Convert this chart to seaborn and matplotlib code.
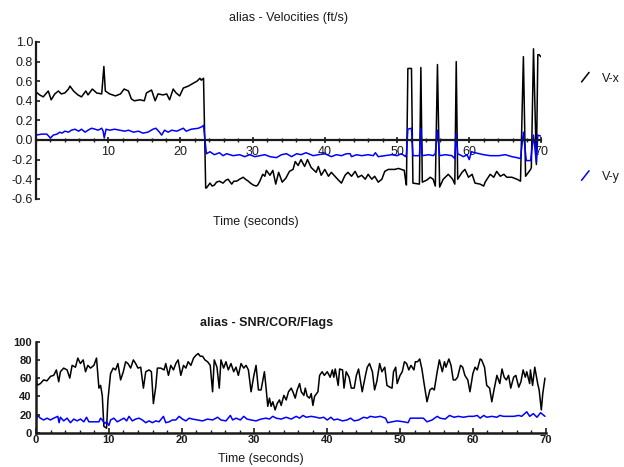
import matplotlib
matplotlib.use('Agg')
import matplotlib.pyplot as plt
from matplotlib.legend_handler import HandlerBase
from matplotlib.lines import Line2D
from matplotlib.ticker import MultipleLocator, FormatStrFormatter
import numpy as np
import pandas as pd
import seaborn as sns

sns.set_theme(style='white')
plt.rcParams['font.family'] = ['Liberation Sans', 'DejaVu Sans']
plt.rcParams['axes.unicode_minus'] = False

# --- Velocities (ft/s) ---
t_vx = [0.0, 0.5, 1.0, 1.7, 2.1, 2.6, 3.1, 3.5, 4.0, 4.5, 4.7, 5.2, 5.8, 6.3, 6.9, 7.2,
        7.8, 8.4, 9.1, 9.4, 9.6, 10.2, 11.0, 11.7, 12.2, 12.8, 13.2, 13.6, 14.4, 15.0,
        15.3, 16.0, 16.5, 16.9, 17.6, 18.1, 18.5, 19.0, 19.4, 19.9, 20.4, 21.1, 21.8,
        22.3, 22.7, 22.9, 23.2, 23.5,
        23.6, 24.1, 24.4, 24.7, 25.0, 25.4, 25.9, 26.3, 26.6, 27.1, 27.4, 27.8, 28.2,
        28.7, 29.0, 29.4, 29.7, 30.1, 30.5, 30.7, 31.0, 31.4, 31.7, 31.9, 32.4, 32.8,
        33.2, 33.6, 34.1, 34.6, 35.1, 35.6, 35.9, 36.3, 36.7, 37.2, 37.6, 38.1, 38.8,
        39.1, 39.5, 40.0, 40.5, 40.9, 41.4, 41.9, 42.3, 42.8, 43.2, 43.7, 44.2, 44.6,
        45.1, 45.6, 46.0, 46.5, 46.9, 47.4, 47.9, 48.3, 48.8, 49.3, 49.7, 50.2, 50.6,
        51.0, 51.2, 51.3, 51.5, 52.0, 52.2, 53.1, 53.3, 53.5, 54.1, 54.6, 55.0, 55.3,
        55.6, 55.9, 56.4, 57.1, 57.7, 58.0, 58.2, 58.4, 59.0, 59.4, 59.9, 60.4, 60.8,
        61.5, 62.0, 62.2, 62.9, 63.4, 63.8, 64.3, 64.8, 65.2, 65.9, 66.6, 67.1, 67.5,
        67.8, 68.0, 68.5, 68.6, 68.9, 69.3, 69.5, 69.7, 69.9]
vx = [0.49, 0.46, 0.44, 0.50, 0.41, 0.47, 0.50, 0.47, 0.48, 0.52, 0.55, 0.50, 0.46, 0.44,
      0.50, 0.46, 0.52, 0.48, 0.47, 0.75, 0.50, 0.47, 0.45, 0.47, 0.52, 0.50, 0.42, 0.40,
      0.41, 0.40, 0.48, 0.51, 0.40, 0.47, 0.46, 0.47, 0.41, 0.52, 0.48, 0.45, 0.53, 0.55,
      0.58, 0.60, 0.63, 0.61, 0.63, -0.49,
      -0.49, -0.44, -0.47, -0.46, -0.43, -0.42, -0.44, -0.41, -0.40, -0.45, -0.42, -0.42,
      -0.40, -0.38, -0.40, -0.42, -0.44, -0.46, -0.47, -0.46, -0.42, -0.35, -0.37, -0.31,
      -0.36, -0.31, -0.45, -0.33, -0.43, -0.39, -0.32, -0.30, -0.22, -0.26, -0.20, -0.27,
      -0.20, -0.28, -0.33,
      -0.27, -0.36, -0.30, -0.37, -0.33, -0.37, -0.41, -0.44, -0.36, -0.33, -0.37, -0.32,
      -0.38, -0.36, -0.40, -0.35, -0.40, -0.37, -0.43, -0.40, -0.32, -0.30, -0.30, -0.30,
      -0.29, -0.30, -0.31, -0.42, -0.46, 0.73, 0.73, -0.44, -0.45, 0.74, -0.43, -0.41,
      -0.38, -0.40, -0.47, 0.77, -0.48, -0.40, -0.35, -0.40, -0.45, 0.80, -0.40, -0.33,
      -0.30, -0.38, -0.35, -0.44, -0.45, -0.47, -0.43, -0.35, -0.38, -0.32, -0.37, -0.35,
      -0.38, -0.38, -0.40, -0.42, 0.85, -0.37, -0.35, -0.30, -0.28, 0.93, -0.25, 0.87,
      0.87, 0.85]

t_vy = [0.0, 0.8, 1.5, 2.0, 2.4, 2.9, 3.3, 3.6, 4.0, 4.5, 4.9, 5.4, 5.9, 6.3, 6.8, 7.2,
        7.7, 8.2, 8.6, 9.1, 9.3, 9.45, 9.7, 10.2, 10.9, 11.6, 12.3, 12.8, 13.5, 14.2, 14.8,
        15.5, 16.2, 16.6, 17.1, 17.4, 17.8, 18.3, 18.8, 19.5, 20.4, 20.8, 21.5, 22.5, 23.1,
        23.2, 23.6, 24.1, 24.7, 25.4, 25.9, 26.4, 27.3, 28.2, 28.9, 29.6, 30.3, 31.0, 31.7,
        32.4, 33.3, 34.0, 34.7, 35.4, 36.1, 36.7, 37.4, 38.4,
        39.1, 40.0, 40.9, 41.6, 42.3, 43.0, 43.5, 43.7, 44.4, 45.1, 46.0, 46.7, 47.0, 47.4,
        48.3, 49.3, 50.0, 50.6, 51.2, 51.3, 51.5, 52.0, 52.2, 53.1, 53.3, 53.5, 54.4, 55.0,
        55.3, 55.6, 55.9, 56.7, 57.6, 58.0, 58.2, 58.4, 59.2, 59.7, 60.0, 60.3, 60.8, 62.0,
        62.9, 64.1, 65.0, 65.9, 66.6, 67.1, 67.5, 67.9, 68.5, 68.9, 69.3, 69.5, 69.9]
vy = [0.05, 0.06, 0.06, 0.02, 0.05, 0.06, 0.08, 0.07, 0.09, 0.08, 0.10, 0.11, 0.09, 0.11,
      0.08, 0.10, 0.12, 0.11, 0.10, 0.12, 0.09, 0.02, 0.11, 0.10, 0.11, 0.10, 0.09, 0.10,
      0.08, 0.09, 0.07, 0.08, 0.11, 0.12, 0.08, 0.05, 0.10, 0.08, 0.10, 0.09, 0.12, 0.09,
      0.11, 0.12, 0.14, 0.15, -0.14, -0.12, -0.15, -0.13, -0.16, -0.14, -0.16, -0.15,
      -0.17, -0.15, -0.17, -0.16, -0.15, -0.17, -0.18, -0.15, -0.14, -0.17, -0.14, -0.15,
      -0.13, -0.16,
      -0.15, -0.14, -0.17, -0.15, -0.16, -0.14, -0.14, -0.17, -0.15, -0.16, -0.15, -0.16,
      -0.13, -0.17, -0.16, -0.15, -0.16, -0.14, -0.17, -0.14, 0.11, 0.12, -0.16, -0.16,
      0.12, -0.16, -0.15, -0.16, -0.14, 0.10, -0.16, -0.15, -0.16, -0.19, 0.07, -0.14,
      -0.17, -0.15, -0.20, -0.12, -0.13, -0.15, -0.16, -0.16, -0.15, -0.17, -0.18, -0.19,
      0.08, -0.21, -0.21, 0.05, -0.23, 0.05, 0.04]

# --- SNR/COR/Flags ---
t_snr = [0.0, 0.14, 0.6, 1.06, 1.5, 2.0, 2.43, 2.8, 3.12, 3.35, 3.8, 4.27, 4.64, 4.96,
         5.42, 5.74, 6.1, 6.48, 6.8, 7.12, 7.49, 7.95, 8.31, 8.64, 8.87, 9.1, 9.32, 9.69,
         9.88, 10.24, 10.6, 10.93, 11.25, 11.62, 11.99, 12.31, 12.63, 13.0, 13.37, 13.69,
         14.0, 14.38, 14.75, 15.07, 15.53, 15.85, 16.12, 16.44, 16.67, 17.13, 17.59, 17.82,
         18.19, 18.51, 18.88, 19.2, 19.52, 19.89, 20.26, 20.58, 20.9, 21.27, 21.64, 21.96,
         22.28, 22.55, 22.88, 23.2, 23.56, 23.93, 24.25, 24.48, 24.85, 25.17, 25.4, 25.77,
         26.09, 26.41, 26.78, 27.15, 27.47, 27.79, 28.16, 28.53, 28.85, 29.17, 29.54, 29.9,
         30.22, 30.55, 30.91, 31.37, 31.6, 31.83, 32.06, 32.29, 32.52, 32.84, 33.12, 33.44,
         33.67, 34.04, 34.36, 34.68, 35.05, 35.28, 35.6, 35.87, 36.2, 36.43, 36.79, 36.98,
         37.25, 37.57, 37.8, 38.03, 38.26, 38.72, 38.95,
         39.3, 39.6, 40.0, 40.4, 40.7, 40.9, 41.1, 41.5, 41.7, 42.1, 42.3, 42.6, 43.0, 43.3,
         43.7, 44.0, 44.3, 44.8, 45.3, 45.5, 45.8, 46.2, 46.5, 46.8, 47.2, 47.5, 47.9, 48.2,
         48.6, 48.9, 49.1, 49.4, 49.6, 50.0, 50.3, 50.6, 50.9, 51.2, 51.5, 51.9, 52.1, 52.4,
         52.7, 53.0, 53.3, 53.7, 54.1, 54.4, 54.7, 55.1, 55.4, 55.8, 56.1, 56.3, 56.7, 57.0,
         57.3, 57.6, 57.9, 58.3, 58.6, 58.9, 59.3, 59.6, 60.0, 60.3, 60.6, 61.0, 61.2, 61.6,
         61.9, 62.3, 62.6, 62.9, 63.3, 63.7, 64.0, 64.3, 64.6, 64.9, 65.2, 65.6, 65.9, 66.3,
         66.6, 66.9, 67.2, 67.4, 67.8, 67.9, 68.2, 68.5, 68.9, 69.1, 69.4, 69.6, 69.9]
snr = [63, 52, 54, 58, 57, 62, 63, 69, 56, 67, 71, 69, 60, 74, 72, 82, 76, 80, 67, 74, 71,
       74, 82, 49, 52, 41, 7, 5, 36, 65, 71, 69, 76, 58, 67, 78, 76, 71, 80, 76, 71, 72, 49,
       67, 69, 67, 32, 50, 71, 71, 69, 76, 63, 74, 69, 76, 80, 63, 74, 71, 78, 74, 82, 85,
       87, 84, 84, 80, 78, 74, 45, 80, 72, 49, 80, 71, 78, 69, 76, 67, 72, 63, 76, 71, 74,
       69, 45, 62, 74, 47, 47, 67, 49, 29, 38, 29, 34, 25, 32, 36, 30, 41, 36, 45, 49, 45,
       38, 47, 54, 45, 41, 49, 40, 38, 43, 30, 40, 45, 63,
       67, 63, 67, 61, 69, 61, 70, 52, 70, 69, 49, 67, 61, 49, 49, 63, 70, 45, 65, 72, 76,
       67, 47, 56, 76, 67, 72, 52, 50, 49, 67, 72, 54, 63, 67, 78, 76, 69, 74, 69, 78, 78,
       81, 70, 54, 34, 47, 49, 47, 67, 80, 67, 78, 72, 81, 74, 58, 58, 61, 74, 72, 63, 58,
       45, 65, 72, 69, 81, 80, 72, 52, 49, 34, 47, 63, 54, 70, 61, 58, 63, 49, 61, 63, 50,
       56, 69, 61, 67, 54, 69, 52, 72, 54, 47, 25, 43, 60]

t_cor = [0.0, 0.23, 0.6, 1.06, 1.52, 1.98, 2.43, 2.99, 3.17, 3.35, 3.81, 4.27, 4.73, 5.19,
         5.65, 6.11, 6.57, 6.94, 7.26, 8.64, 8.87, 9.1, 9.42, 9.69, 10.01, 10.24, 10.7,
         11.16, 11.62, 12.08, 12.45, 12.77, 13.23, 13.69, 14.15, 14.61, 15.07, 15.53, 15.99,
         16.44, 16.9, 17.5, 17.82, 18.28, 18.74, 19.2, 19.66, 20.12, 20.58, 21.04, 21.5,
         22.19, 22.88, 23.56, 24.25, 24.94, 25.4, 26.09, 26.69, 27.01, 27.47, 28.07, 28.53,
         28.98, 29.54, 30.22, 30.91, 31.6, 32.06, 32.52, 32.98, 33.67, 34.36, 35.05, 35.74,
         36.2, 36.66, 37.12, 37.8, 38.49, 38.95, 39.5,
         40.0, 40.5, 40.9, 41.4, 42.1, 42.7, 43.2, 43.7, 44.3, 45.0, 45.5, 45.9, 46.6, 47.3,
         48.0, 48.3, 48.9, 49.6, 50.5, 51.1, 51.4, 52.3, 53.2, 53.7, 54.4, 55.1, 55.5, 56.2,
         56.8, 57.4, 58.0, 58.7, 59.4, 60.1, 60.6, 61.0, 61.5, 61.9, 62.6, 63.3, 63.7, 64.2,
         64.9, 65.6, 66.3, 66.7, 67.4, 67.8, 68.3, 68.8, 69.3, 69.9]
cor = [14, 19, 16, 14, 16, 14, 16, 18, 11, 17, 13, 16, 11, 15, 13, 15, 12, 17, 12, 12, 16,
       14, 10, 12, 8, 14, 16, 12, 14, 16, 13, 18, 13, 15, 16, 14, 11, 13, 11, 13, 12, 18,
       11, 12, 14, 14, 18, 15, 13, 16, 15, 14, 13, 15, 14, 17, 14, 13, 19, 14, 16, 14, 18,
       15, 14, 13, 15, 16, 15, 18, 16, 15, 17, 15, 18, 16, 19, 17, 18, 17, 16, 17,
       14, 17, 14, 15, 13, 14, 16, 13, 14, 17, 16, 18, 17, 18, 16, 11, 12, 13, 12, 11, 16,
       16, 16, 12, 14, 18, 16, 15, 19, 17, 18, 17, 18, 18, 19, 16, 19, 17, 18, 17, 19, 18,
       18, 18, 19, 18, 23, 18, 21, 17, 22, 18]

vel = pd.DataFrame({'t': t_vx, 'V-x': vx})
vel_y = pd.DataFrame({'t': t_vy, 'V-y': vy})
snr_df = pd.DataFrame({'t': t_snr, 'snr': snr})
cor_df = pd.DataFrame({'t': t_cor, 'cor': cor})

INK = '#1a1a1a'
BLUE = '#0000ff'


class DiagHandler(HandlerBase):
    """short slanted stroke used as legend key"""
    def create_artists(self, legend, orig_handle, xdescent, ydescent,
                       width, height, fontsize, trans):
        ln = Line2D([-xdescent, -xdescent + width], [-ydescent, -ydescent + height],
                    color=orig_handle.get_color(), lw=orig_handle.get_linewidth(),
                    transform=trans)
        return [ln]


fig = plt.figure(figsize=(6.24, 4.67), dpi=100)
ax1 = fig.add_axes([0.0577, 0.5743, 0.810, 0.3358])
ax2 = fig.add_axes([0.0577, 0.0734, 0.8168, 0.1949])

# top panel
sns.lineplot(data=vel, x='t', y='V-x', ax=ax1, color='black', lw=1.1,
             estimator=None, sort=False)
sns.lineplot(data=vel_y, x='t', y='V-y', ax=ax1, color=BLUE, lw=1.1,
             estimator=None, sort=False)
ax1.set_xlim(0, 70)
ax1.set_ylim(-0.6, 1.0)
for s in ['top', 'right']:
    ax1.spines[s].set_visible(False)
ax1.spines['left'].set_position(('data', 0))
ax1.spines['bottom'].set_position(('data', 0))
for s in ['left', 'bottom']:
    ax1.spines[s].set_color(INK)
    ax1.spines[s].set_linewidth(1.6)
ax1.set_xticks(range(10, 71, 10))
ax1.xaxis.set_minor_locator(MultipleLocator(2))
ax1.set_yticks(np.arange(-0.6, 1.01, 0.2))
ax1.yaxis.set_major_formatter(FormatStrFormatter('%.1f'))
ax1.tick_params(axis='x', which='major', bottom=True, direction='inout', length=4.5,
                width=1.2, pad=2, labelsize=9, color=INK, labelcolor=INK)
ax1.tick_params(axis='x', which='minor', bottom=True, direction='inout', length=2.5,
                width=1.0, color=INK)
ax1.tick_params(axis='y', left=True, direction='in', length=3, width=1.2, pad=2,
                labelsize=9, color=INK, labelcolor=INK)
ax1.set_ylabel('')
ax1.set_xlabel('Time (seconds)', fontsize=9, color=INK)
ax1.xaxis.set_label_coords(0.435, -0.11)
ax1.text(0.5, 1.153, 'alias - Velocities (ft/s)', transform=ax1.transAxes,
         ha='center', va='center', fontsize=9, color=INK)

handles = [Line2D([], [], color='black', lw=1.1), Line2D([], [], color=BLUE, lw=1.1)]
fig.legend(handles, ['V-x', 'V-y'], handler_map={Line2D: DiagHandler()},
           loc='upper left', bbox_to_anchor=(0.932, 0.845), frameon=False,
           fontsize=9, handlelength=0.6, handleheight=0.8, handletextpad=1.0,
           labelspacing=6.9, borderpad=0, borderaxespad=0, labelcolor=INK)

# bottom panel
sns.lineplot(data=snr_df, x='t', y='snr', ax=ax2, color='black', lw=1.1,
             estimator=None, sort=False)
sns.lineplot(data=cor_df, x='t', y='cor', ax=ax2, color=BLUE, lw=1.1,
             estimator=None, sort=False)
ax2.set_xlim(0, 70)
ax2.set_ylim(0, 100)
for s in ['top', 'right']:
    ax2.spines[s].set_visible(False)
for s in ['left', 'bottom']:
    ax2.spines[s].set_color(INK)
    ax2.spines[s].set_linewidth(1.8)
ax2.set_xticks(range(0, 71, 10))
ax2.xaxis.set_minor_locator(MultipleLocator(2))
ax2.set_yticks(range(0, 101, 20))
ax2.tick_params(axis='x', which='major', bottom=True, direction='in', length=3.5,
                width=1.2, pad=2, labelsize=8, color=INK, labelcolor=INK)
ax2.tick_params(axis='x', which='minor', bottom=True, direction='in', length=2.5,
                width=1.0, color=INK)
ax2.tick_params(axis='y', left=True, direction='in', length=3, width=1.2, pad=3,
                labelsize=8, color=INK, labelcolor=INK)
for lab in ax2.get_xticklabels() + ax2.get_yticklabels():
    lab.set_fontweight('bold')
ax2.set_ylabel('')
ax2.set_xlabel('Time (seconds)', fontsize=9, color=INK)
ax2.xaxis.set_label_coords(0.441, -0.223)
ax2.text(0.453, 1.209, 'alias - SNR/COR/Flags', transform=ax2.transAxes,
         ha='center', va='center', fontsize=9, fontweight='bold', color=INK)

fig.savefig('out.png', dpi=100)
